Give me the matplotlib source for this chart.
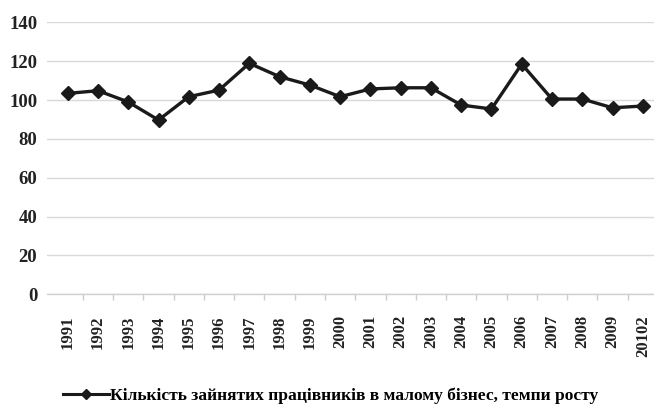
import matplotlib
matplotlib.use("Agg")
import matplotlib.pyplot as plt
from matplotlib.lines import Line2D
import numpy as np

years = ["1991", "1992", "1993", "1994", "1995", "1996", "1997", "1998", "1999", "2000",
         "2001", "2002", "2003", "2004", "2005", "2006", "2007", "2008", "2009", "20102"]
values = [103.4, 104.8, 99.0, 89.7, 101.7, 105.1, 118.9, 112.0, 107.7, 101.7,
          105.7, 106.3, 106.3, 97.4, 95.4, 118.5, 100.5, 100.5, 96.0, 96.9]
y_ticks = [0, 20, 40, 60, 80, 100, 120, 140]
legend_label = "Кількість зайнятих працівників в малому бізнес, темпи росту"

plt.rcParams['font.family'] = ['Liberation Serif', 'DejaVu Serif']
plt.rcParams['font.weight'] = 'bold'

W, H = 654, 408
fig = plt.figure(figsize=(W / 100, H / 100), dpi=100)
ax = fig.add_axes([47 / W, 1 - 294.3 / H, (654 - 47) / W, (294.3 - 22.3) / H])

x = np.arange(len(years))
line_color = "#1a1a1a"
ax.plot(x, values, color=line_color, linewidth=2.4, marker='D', markersize=7.4,
        markerfacecolor=line_color, markeredgecolor=line_color, markeredgewidth=1, zorder=3)

ax.set_ylim(0, 140)
ax.set_yticks(y_ticks)
ax.set_yticklabels([str(v) for v in y_ticks], fontsize=13.5, fontweight='bold', color="#222222")
ax.set_xlim(-0.684, 19.37)
ax.set_xticks(x)
ax.set_xticklabels(years, rotation=90, fontsize=12, fontweight='bold', color="#222222")
ax.set_xticks(np.arange(0.5, len(years) - 1, 1.0), minor=True)

ax.tick_params(axis='y', length=0, pad=7)
ax.tick_params(axis='x', which='major', length=0, pad=15)
ax.tick_params(axis='x', which='minor', length=4, color="#cccccc", width=1)

ax.grid(axis='y', color="#d9d9d9", linewidth=1.0)
ax.set_axisbelow(True)
for s in ['top', 'right', 'left']:
    ax.spines[s].set_visible(False)
ax.spines['bottom'].set_color("#d0d0d0")
ax.spines['bottom'].set_linewidth(1.0)

handle = Line2D([], [], color=line_color, linewidth=2.2, marker='D', markersize=5.5,
                markerfacecolor=line_color, markeredgecolor=line_color)
fig.legend([handle], [legend_label], loc='center left', bbox_to_anchor=(63 / W, 1 - 396 / H),
           frameon=False, borderpad=0, borderaxespad=0, handlelength=2.6, handletextpad=0.1,
           prop={'family': ['Liberation Serif', 'DejaVu Serif'], 'weight': 'bold', 'size': 12.6})

fig.savefig("out.png", dpi=100)
